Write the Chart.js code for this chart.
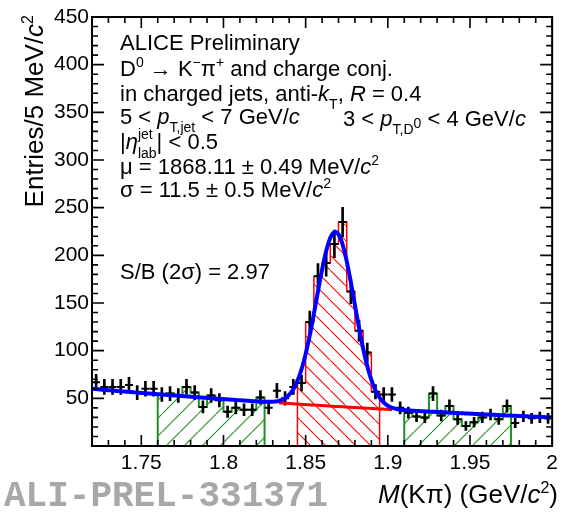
<!DOCTYPE html>
<html>
<head>
<meta charset="utf-8">
<script src="https://cdn.jsdelivr.net/npm/chart.js@4/dist/chart.umd.min.js"></script>
<style>
  html, body { margin: 0; background: #fff; }
  #wrap { width: 563px; height: 513px; position: relative; }
</style>
</head>
<body>
<div id="wrap"><canvas id="c"></canvas></div>
<script>
// invariant mass histogram, 5 MeV bins from 1.72 to 2.00 GeV/c2
const binLow = 1.72;
const binWidth = 0.005;
const counts = [
  67, 62, 62, 62, 64, 56, 60, 60, 54, 55,
  53, 62, 56, 41, 53, 48, 36, 40, 38, 38,
  51, 40, 58, 50, 62, 66, 130, 178, 192, 212,
  235, 162, 121, 98, 57, 54, 54, 40, 35, 31,
  30, 55, 32, 42, 28, 21, 25, 30, 33, 28,
  42, 24, 31, 29, 30, 29
];

// regions used for the S/B extraction
const sidebandLeft = [1.76, 1.825];
const sidebandRight = [1.91, 1.975];
const signalRegion = [1.845, 1.895];

// fit: exponential background + gaussian
const fitMu = 1.86811;
const fitSigma = 0.0115;
const fitPeak = 183;
const bkgAt172 = 60;
const bkgSlope = -2.48;

const xTickValues = [1.75, 1.8, 1.85, 1.9, 1.95, 2.0];
const xTickLabels = ['1.75', '1.8', '1.85', '1.9', '1.95', '2'];
const yTickValues = [50, 100, 150, 200, 250, 300, 350, 400, 450];
const yTickLabels = ['50', '100', '150', '200', '250', '300', '350', '400', '450'];

const FONT = '"Liberation Sans", Arial, sans-serif';
Chart.defaults.font.family = FONT;
Chart.defaults.color = '#000';

const centers = counts.map((_, i) => binLow + (i + 0.5) * binWidth);

function bkg(m) { return bkgAt172 * Math.exp(bkgSlope * (m - 1.72)); }
function fitFn(m) {
  const z = (m - fitMu) / fitSigma;
  return bkg(m) + fitPeak * Math.exp(-0.5 * z * z);
}

// step outline of the bins inside [lo, hi]
function stepOutline(lo, hi) {
  const pts = [{ x: lo, y: 0 }];
  let last = 0;
  counts.forEach((v, i) => {
    const edge = binLow + i * binWidth;
    if (edge >= lo - 1e-9 && edge < hi - 1e-9) { pts.push({ x: edge, y: v }); last = v; }
  });
  pts.push({ x: hi, y: last });
  pts.push({ x: hi, y: 0 });
  return pts;
}

function hatch(color, step, rising) {
  const c = document.createElement('canvas');
  c.width = c.height = step;
  const g = c.getContext('2d');
  g.strokeStyle = color;
  g.lineWidth = 1.1;
  g.beginPath();
  if (rising) { g.moveTo(-1, step + 1); g.lineTo(step + 1, -1); }
  else { g.moveTo(-1, -1); g.lineTo(step + 1, step + 1); }
  g.stroke();
  return g.createPattern(c, 'repeat');
}

const green = '#1f8f1f';
const red = '#ff0000';
const greenHatch = hatch(green, 18, true);
const redHatch = hatch(red, 15, false);

const fitCurve = [];
for (let k = 0; k <= 280; k++) {
  const m = 1.72 + k * 0.001;
  fitCurve.push({ x: m, y: fitFn(m) });
}
const bkgCurve = [];
for (let k = 0; k <= 60; k++) {
  const m = fitMu - 3 * fitSigma + k * (6 * fitSigma / 60);
  bkgCurve.push({ x: m, y: bkg(m) });
}

const histStyle = (color, pattern) => ({
  type: 'line', stepped: 'before', fill: 'origin',
  borderColor: color, backgroundColor: pattern,
  pointRadius: 0, order: 10
});

// ROOT-like frame with inward ticks on all four sides, plus the text
const framePlugin = {
  id: 'frame',
  afterDraw(chart) {
    const { ctx, chartArea: a, scales: { x, y } } = chart;
    ctx.save();
    ctx.strokeStyle = '#000';
    ctx.lineWidth = 2;
    ctx.strokeRect(a.left, a.top, a.right - a.left, a.bottom - a.top);
    ctx.lineWidth = 1.6;
    ctx.beginPath();
    for (let k = 0; k <= 28; k++) {
      const v = 1.72 + k * 0.01;
      const px = x.getPixelForValue(v);
      const len = (Math.round(v * 1000) % 50 === 0) ? 11 : 6;
      ctx.moveTo(px, a.bottom); ctx.lineTo(px, a.bottom - len);
      ctx.moveTo(px, a.top); ctx.lineTo(px, a.top + len);
    }
    for (let v = 0; v <= 450; v += 10) {
      const py = y.getPixelForValue(v);
      const len = v % 50 === 0 ? 12 : 6;
      ctx.moveTo(a.left, py); ctx.lineTo(a.left + len, py);
      ctx.moveTo(a.right, py); ctx.lineTo(a.right - len, py);
    }
    ctx.stroke();

    ctx.fillStyle = '#000';
    ctx.textBaseline = 'alphabetic';
    ctx.textAlign = 'left';
    const S = 22;
    const L = 120;
    runs(ctx, L, 50, [{ t: 'ALICE Preliminary' }], S);
    runs(ctx, L, 76, [{ t: 'D' }, { t: '0', sup: 1 }, { t: ' \u2192 K' }, { t: '\u2212', sup: 1 }, { t: '\u03c0' }, { t: '+', sup: 1 }, { t: ' and charge conj.' }], S);
    runs(ctx, L, 101, [{ t: 'in charged jets, anti-' }, { t: 'k', it: 1 }, { t: 'T', sub: 1 }, { t: ', ' }, { t: 'R', it: 1 }, { t: ' = 0.4' }], S);
    runs(ctx, L, 124, [{ t: '5 < ' }, { t: 'p', it: 1 }, { t: 'T,jet', sub: 1 }, { t: ' < 7 GeV/' }, { t: 'c', it: 1 }], S);
    runs(ctx, 343, 126, [{ t: '3 < ' }, { t: 'p', it: 1 }, { t: 'T,D', sub: 1 }, { t: '0', subsup: 1 }, { t: ' < 4 GeV/' }, { t: 'c', it: 1 }], S);
    runs(ctx, L, 149, [{ t: '|' }, { t: '\u03b7', it: 1 }, { stack: ['jet', 'lab'] }, { t: '| < 0.5' }], S);
    runs(ctx, L, 174, [{ t: '\u03bc = 1868.11 \u00b1 0.49 MeV/' }, { t: 'c', it: 1 }, { t: '2', sup: 1 }], S);
    runs(ctx, L, 197, [{ t: '\u03c3 = 11.5 \u00b1 0.5 MeV/' }, { t: 'c', it: 1 }, { t: '2', sup: 1 }], S);
    runs(ctx, L, 279, [{ t: 'S/B (2\u03c3) = 2.97' }], S);

    // axis titles
    const T = 26;
    const xt = [{ t: 'M', it: 1 }, { t: '(K\u03c0) (GeV/' }, { t: 'c', it: 1 }, { t: '2', sup: 1 }, { t: ')' }];
    runs(ctx, 558 - measureRuns(ctx, xt, T), 503, xt, T);

    ctx.save();
    ctx.translate(43, 15);
    ctx.rotate(-Math.PI / 2);
    const yt = [{ t: 'Entries/5 MeV/' }, { t: 'c', it: 1 }, { t: '2', sup: 1 }];
    runs(ctx, -measureRuns(ctx, yt, T), 0, yt, T);
    ctx.restore();

    ctx.fillStyle = '#a8a8a8';
    ctx.font = 'bold 36px "Liberation Mono", "Courier New", monospace';
    ctx.fillText('ALI-PREL-331371', 4, 506);
    ctx.restore();
  }
};

function fontFor(r, size) {
  const small = r.sub || r.sup || r.subsup;
  return `${r.it ? 'italic ' : ''}${small ? Math.round(size * 0.62) : size}px ${FONT}`;
}

function measureRuns(ctx, list, size) {
  let w = 0;
  for (const r of list) {
    if (r.stack) {
      ctx.font = `${Math.round(size * 0.62)}px ${FONT}`;
      w += Math.max(...r.stack.map(s => ctx.measureText(s).width));
    } else {
      ctx.font = fontFor(r, size);
      w += ctx.measureText(r.t).width;
    }
  }
  return w;
}

function runs(ctx, x, y, list, size) {
  for (const r of list) {
    if (r.stack) {
      ctx.font = `${Math.round(size * 0.62)}px ${FONT}`;
      ctx.fillText(r.stack[0], x, y - size * 0.45);
      ctx.fillText(r.stack[1], x, y + size * 0.4);
      x += Math.max(...r.stack.map(s => ctx.measureText(s).width));
      continue;
    }
    ctx.font = fontFor(r, size);
    let dy = 0;
    if (r.sup) dy = -size * 0.4;
    if (r.sub) dy = size * 0.38;
    if (r.subsup) dy = size * 0.1;
    ctx.fillText(r.t, x, y + dy);
    x += ctx.measureText(r.t).width;
  }
  return x;
}

new Chart(document.getElementById('c'), {
  type: 'line',
  data: {
    datasets: [
      { ...histStyle(green, greenHatch), data: stepOutline(...sidebandLeft), borderWidth: 2 },
      { ...histStyle(green, greenHatch), data: stepOutline(...sidebandRight), borderWidth: 2 },
      { ...histStyle(red, redHatch), data: stepOutline(...signalRegion), borderWidth: 1.5 },
      {
        // statistical error bars
        type: 'bar', grouped: false, order: 5,
        data: counts.map((v, i) => ({ x: centers[i], y: [v - Math.sqrt(v), v + Math.sqrt(v)] })),
        backgroundColor: '#000', barThickness: 2, borderWidth: 0
      },
      {
        type: 'line', showLine: false, order: 4,
        data: counts.map((v, i) => ({ x: centers[i], y: v })),
        pointStyle: 'line', pointRadius: 4, borderColor: '#000', borderWidth: 2
      },
      {
        type: 'line', order: 4,
        data: counts.map((v, i) => ({ x: centers[i], y: v })),
        showLine: false, pointStyle: 'circle', pointRadius: 1.6,
        backgroundColor: '#000', borderColor: '#000', borderWidth: 0
      },
      {
        type: 'line', order: 2, data: bkgCurve,
        borderColor: red, borderWidth: 3, pointRadius: 0, fill: false
      },
      {
        type: 'line', order: 1, data: fitCurve,
        borderColor: '#0000ff', borderWidth: 4, pointRadius: 0, fill: false, tension: 0
      }
    ]
  },
  options: {
    responsive: true,
    maintainAspectRatio: false,
    animation: false,
    layout: { padding: { top: 17, right: 5, left: 0, bottom: 0 } },
    plugins: { legend: { display: false }, tooltip: { enabled: false } },
    scales: {
      x: {
        type: 'linear', min: 1.72, max: 2.0, offset: false,
        grid: { display: false, offset: false, drawTicks: false, tickLength: 0 },
        border: { display: false },
        afterBuildTicks: s => { s.ticks = xTickValues.map(v => ({ value: v })); },
        afterFit: s => { s.height = 67; },
        ticks: {
          font: { size: 21 }, color: '#000', padding: 5, maxRotation: 0,
          callback: (v, i) => xTickLabels[i]
        }
      },
      y: {
        type: 'linear', min: 0, max: 450,
        grid: { display: false, drawTicks: false, tickLength: 0 },
        border: { display: false },
        afterBuildTicks: s => { s.ticks = yTickValues.map(v => ({ value: v })); },
        afterFit: s => { s.width = 92; },
        ticks: {
          font: { size: 21 }, color: '#000', padding: 3,
          callback: (v, i) => yTickLabels[i]
        }
      }
    }
  },
  plugins: [framePlugin]
});
</script>
</body>
</html>
